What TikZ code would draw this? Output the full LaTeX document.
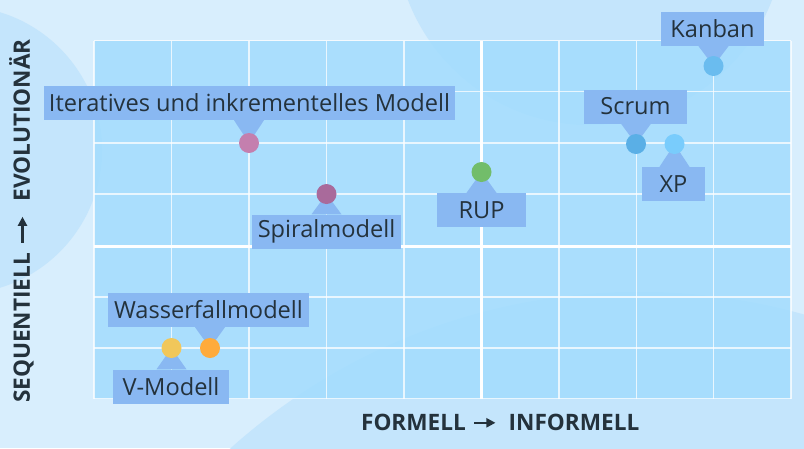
\documentclass[tikz,border=0pt]{standalone}
\usepackage{fontspec}
\setmainfont{Open Sans}
\usetikzlibrary{arrows.meta,calc}
\definecolor{bgbase}{HTML}{D8EEFD}
\definecolor{bgcirc}{HTML}{C4E5FC}
\definecolor{gridfill}{HTML}{A2DCFE}
\definecolor{lblcol}{HTML}{89B8F2}
\definecolor{txtcol}{HTML}{24323C}
\definecolor{cIter}{HTML}{C47FAE}
\definecolor{cSpir}{HTML}{A96A9B}
\definecolor{cRup}{HTML}{72BD6A}
\definecolor{cScrum}{HTML}{5AAFE6}
\definecolor{cXp}{HTML}{79CCFC}
\definecolor{cKanban}{HTML}{6ABCEF}
\definecolor{cWasser}{HTML}{FFAB3B}
\definecolor{cVmod}{HTML}{F1C75A}
\tikzset{
  lbl/.style={fill=lblcol, text=txtcol, inner sep=0pt, minimum height=34pt,
    font=\fontsize{23.6}{27}\selectfont},
  pnt/.style={circle, inner sep=0pt, minimum size=20pt},
  ptr/.style={fill=lblcol},
  axis/.style={text=txtcol, inner sep=0pt, text height=15pt, text depth=0pt,
    font=\bfseries\fontsize{22.6}{26}\selectfont},
  axarrow/.style={draw=txtcol, line width=2.2pt, -{Triangle[length=9pt,width=9pt]}},
  thin grid/.style={draw=white, draw opacity=0.75, line width=1.3pt},
  thick grid/.style={draw=white, line width=3.5pt}
}
\begin{document}
\begin{tikzpicture}[x=1pt,y=-1pt]
\useasboundingbox (0,0) rectangle (804,448);
% background
\fill[bgbase] (0,0) rectangle (804,448);
\begin{scope}
  \clip (0,0) rectangle (804,448);
  \fill[bgcirc] (-42,150) circle[radius=144pt];
  \fill[bgcirc] (590,-70) circle[radius=195pt];
  \fill[bgcirc] (639,904) circle[radius=612pt];
\end{scope}
% grid
\fill[gridfill, fill opacity=0.85] (94,40.5) rectangle (791,398.5);
\foreach \x in {94,171.5,249,326.5,404,559,636.5,713.5,791}
  \draw[thin grid] (\x,40.5) -- (\x,398.5);
\foreach \y in {40.5,91.5,143,194,297,348,398.5}
  \draw[thin grid] (94,\y) -- (791,\y);
\draw[thick grid] (481.5,40.5) -- (481.5,398.5);
\draw[thick grid] (94,246.5) -- (791,246.5);
% points (coordinates)
\coordinate (pIter) at (249,143);
\coordinate (pSpir) at (326.5,194);
\coordinate (pRup) at (481.5,172);
\coordinate (pScrum) at (636,144);
\coordinate (pXp) at (674.5,144);
\coordinate (pKanban) at (713.5,66);
\coordinate (pWasser) at (210,348);
\coordinate (pVmod) at (171.5,348);
% labels
\node[lbl, minimum width=411pt] (lIter) at (249.5,103) {Iteratives und inkrementelles Modell};
\node[lbl, minimum width=149pt] (lSpir) at (326.5,231.5) {Spiralmodell};
\node[lbl, minimum width=89pt] (lRup) at (481.5,210) {RUP};
\node[lbl, minimum width=103pt] (lScrum) at (635.5,106.5) {Scrum};
\node[lbl, minimum width=63pt] (lXp) at (673.5,184) {XP};
\node[lbl, minimum width=103pt] (lKanban) at (712.5,29) {Kanban};
\node[lbl, minimum width=201pt] (lWasser) at (208.5,310) {Wasserfallmodell};
\node[lbl, minimum width=116pt] (lVmod) at (171,386.5) {V-Modell};
% pointers
\foreach \l/\p/\side in {lIter/pIter/south, lScrum/pScrum/south, lKanban/pKanban/south, lWasser/pWasser/south,
                          lSpir/pSpir/north, lRup/pRup/north, lXp/pXp/north, lVmod/pVmod/north}
  \fill[ptr] ($(\l.\side -| \p)+(-15,0)$) -- ($(\l.\side -| \p)+(15,0)$) -- (\p) -- cycle;
% dots
\node[pnt, fill=cIter] (dIter) at (pIter) {};
\node[pnt, fill=cSpir] (dSpir) at (pSpir) {};
\node[pnt, fill=cRup] (dRup) at (pRup) {};
\node[pnt, fill=cScrum] (dScrum) at (pScrum) {};
\node[pnt, fill=cXp] (dXp) at (pXp) {};
\node[pnt, fill=cKanban] (dKanban) at (pKanban) {};
\node[pnt, fill=cWasser] (dWasser) at (pWasser) {};
\node[pnt, fill=cVmod] (dVmod) at (pVmod) {};
% axis labels
\node[axis, anchor=base] (xFrom) at (413.5,430.3) {FORMELL};
\node[axis, anchor=base] (xTo) at (574,430.3) {INFORMELL};
\draw[axarrow, shorten <=8pt, shorten >=13pt] (xFrom.east) -- (xTo.west);
\node[axis, anchor=base, rotate=90] (ySeq) at (30,328) {SEQUENTIELL};
\node[axis, anchor=base, rotate=90] (yEvo) at (30,120.5) {EVOLUTIONÄR};
\draw[axarrow, shorten <=10pt, shorten >=15pt] (ySeq.east) -- (yEvo.west);
\end{tikzpicture}
\end{document}
